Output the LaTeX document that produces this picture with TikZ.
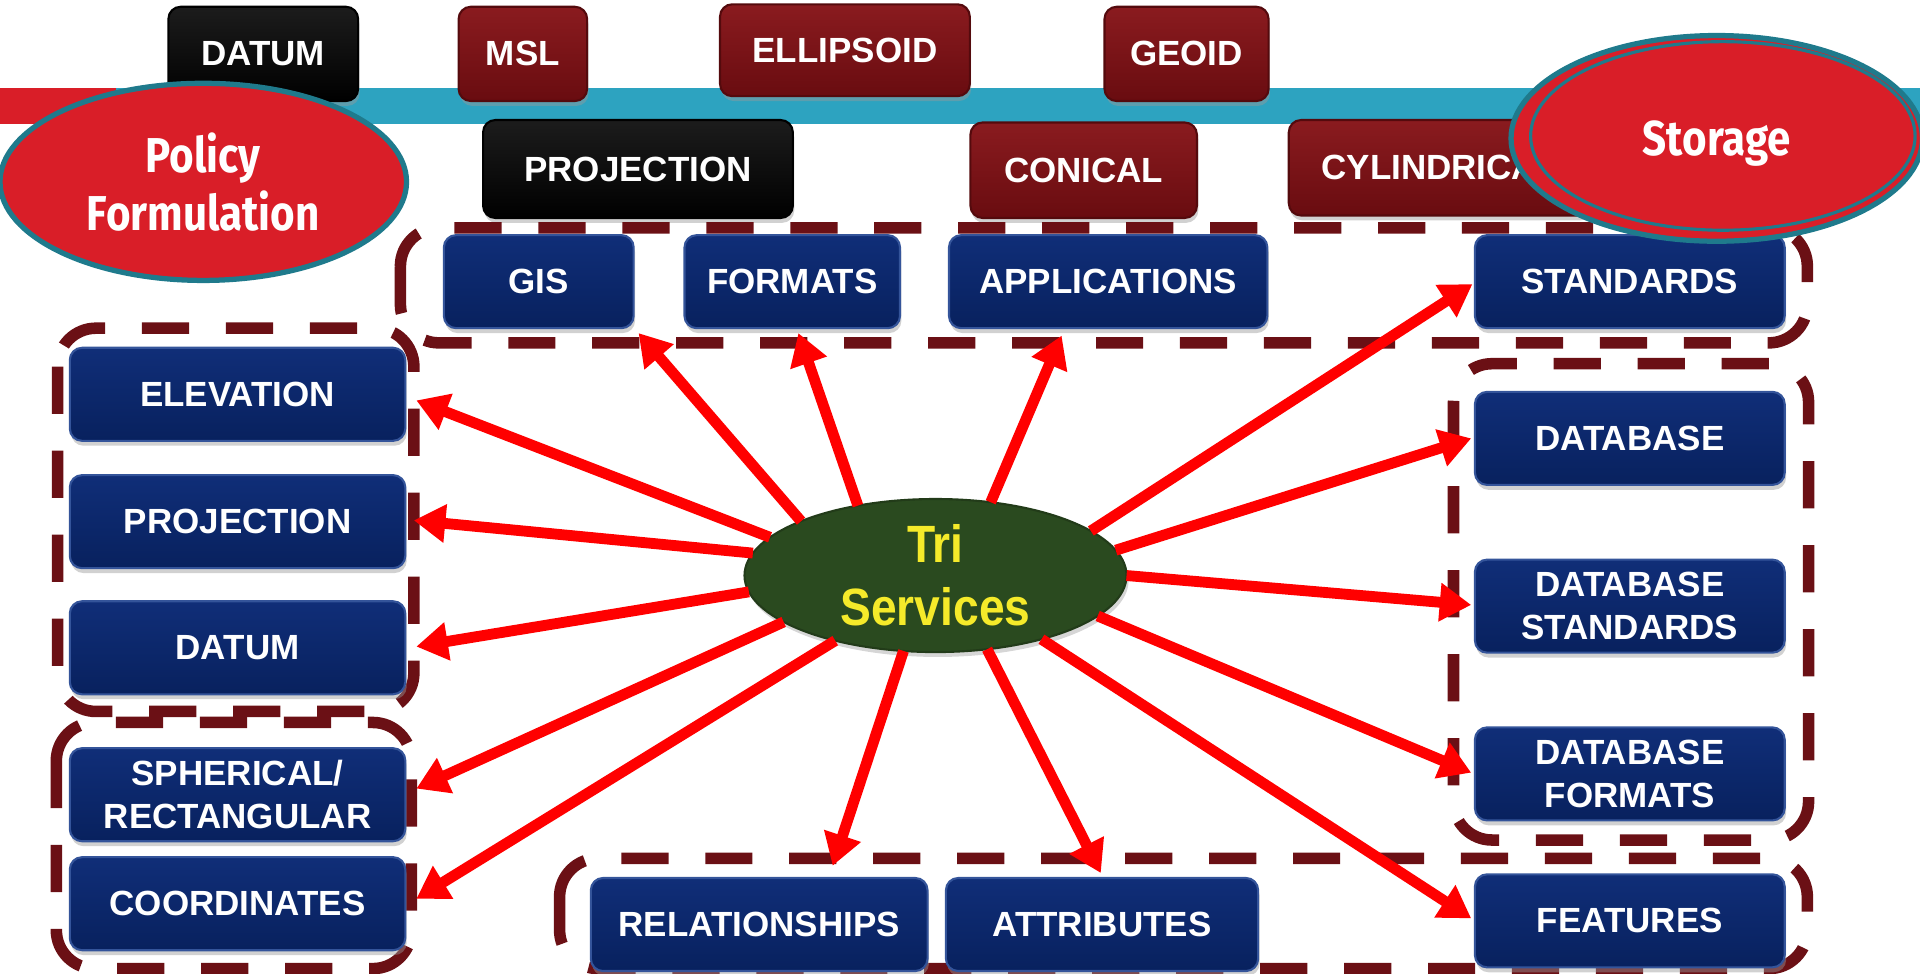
\documentclass[tikz,border=0pt]{standalone}
\usepackage{fontspec}
\setmainfont{Liberation Sans}
\newfontfamily\boxfont{Liberation Sans}
\newfontfamily\trifont{Liberation Sans}[FakeStretch=0.88]
\newfontfamily\twfont{Fira Sans}[FakeStretch=0.86]
\usetikzlibrary{arrows.meta,shapes.geometric,calc,shadows}
\definecolor{navyT}{HTML}{102E78}
\definecolor{navyB}{HTML}{08215E}
\definecolor{navyEdge}{HTML}{34549A}
\definecolor{marT}{HTML}{8A1B1F}
\definecolor{marB}{HTML}{690C10}
\definecolor{blkT}{HTML}{1C1C1C}
\definecolor{blkB}{HTML}{000000}
\definecolor{framecol}{HTML}{6B1015}
\definecolor{tealbar}{HTML}{2DA3C0}
\definecolor{tealedge}{HTML}{1F7A8C}
\definecolor{ellred}{HTML}{D91E28}
\definecolor{trigreen}{HTML}{2A4A1F}
\definecolor{triyellow}{HTML}{F5EA2A}
\definecolor{arrred}{HTML}{FF0000}
\begin{document}
\begin{tikzpicture}[x=0.35pt,y=0.35pt,
 basebox/.style={rectangle, rounded corners=3.5pt, inner sep=0pt, outer sep=0pt, align=center, text=white,
   font=\boxfont\bfseries\fontsize{10}{12.25}\selectfont, minimum height=26.6pt,
   drop shadow={shadow xshift=0.4pt, shadow yshift=-1.4pt, fill=black!40, opacity=0.45}},
 bluebox/.style={basebox, top color=navyT, bottom color=navyB, draw=navyEdge, line width=0.6pt},
 redbox/.style={basebox, top color=marT, bottom color=marB, draw=marB!80!black, line width=0.6pt},
 blackbox/.style={basebox, top color=blkT, bottom color=blkB, draw=black, line width=0.6pt},
 frame/.style={draw=framecol, line width=3.3pt, dash pattern=on 13.5pt off 10.5pt, rounded corners=11pt},
 arr/.style={draw=arrred, line width=3.1pt, -{Triangle[length=9pt,width=10.5pt]}},
 oval/.style={ellipse, fill=ellred, draw=tealedge, line width=1.5pt, inner sep=0pt, outer sep=0pt, text=white,
   align=center, font=\twfont\bfseries\fontsize{14}{16.5}\selectfont}
]
\useasboundingbox (0,0) rectangle (1568,-795);
% bars
\fill[ellred] (0,-72) rectangle (95,-101);
\fill[tealbar] (95,-72) rectangle (1568,-101);
% top boxes
\node[blackbox, minimum width=54.25pt, minimum height=26.95pt] (datumT) at (215,-44) {DATUM};
\node[redbox, minimum width=36.75pt, minimum height=26.95pt] (msl) at (427,-44) {MSL};
\node[redbox, minimum width=71.4pt, minimum height=26.25pt] (ellip) at (690,-41) {ELLIPSOID};
\node[redbox, minimum width=46.9pt, minimum height=26.95pt] (geoid) at (969,-44) {GEOID};
\node[blackbox, minimum width=88.55pt, minimum height=28pt] (projT) at (521,-138) {PROJECTION};
\node[redbox, minimum width=64.75pt, minimum height=27.3pt] (conical) at (885,-139) {CONICAL};
\node[redbox, minimum width=86.45pt, minimum height=27.3pt] (cyl) at (1176,-137) {CYLINDRICAL};
% dashed frames
\draw[frame] (327,-186) rectangle (1476,-280);
\draw[frame] (47,-268) rectangle (338,-581);
\draw[frame] (46,-590) rectangle (336,-791);
\draw[frame] (1187,-297) rectangle (1477,-686);
\draw[frame] (457,-701) rectangle (1476,-791);
% blue boxes
\node[bluebox, minimum width=54.25pt] (gis) at (440,-230) {GIS};
\node[bluebox, minimum width=61.6pt] (formats) at (647,-230) {FORMATS};
\node[bluebox, minimum width=91pt] (apps) at (905,-230) {APPLICATIONS};
\node[bluebox, minimum width=88.55pt] (std) at (1331,-230) {STANDARDS};
\node[bluebox, minimum width=95.9pt] (elev) at (194,-322) {ELEVATION};
\node[bluebox, minimum width=95.9pt] (projL) at (194,-426) {PROJECTION};
\node[bluebox, minimum width=95.9pt] (datumL) at (194,-529) {DATUM};
\node[bluebox, minimum width=95.9pt] (sph) at (194,-649) {SPHERICAL/\\RECTANGULAR};
\node[bluebox, minimum width=95.9pt] (coord) at (194,-738) {COORDINATES};
\node[bluebox, minimum width=88.55pt] (db) at (1331,-358) {DATABASE};
\node[bluebox, minimum width=88.55pt] (dbs) at (1331,-495) {DATABASE\\STANDARDS};
\node[bluebox, minimum width=88.55pt] (dbf) at (1331,-632) {DATABASE\\FORMATS};
\node[bluebox, minimum width=88.55pt] (feat) at (1331,-752) {FEATURES};
\node[bluebox, minimum width=96.25pt] (rel) at (620,-755) {RELATIONSHIPS};
\node[bluebox, minimum width=89.25pt] (attr) at (900,-755) {ATTRIBUTES};
% centre
\node[ellipse, fill=trigreen, draw=trigreen!80!black, line width=0.6pt, inner sep=0pt, outer sep=0pt,
  minimum width=109.2pt, minimum height=43.75pt, text=triyellow, align=center,
  font=\trifont\bfseries\fontsize{15}{18}\selectfont,
  drop shadow={shadow xshift=0.6pt, shadow yshift=-1.4pt, fill=black!40, opacity=0.4}] (tri) at (764,-470) {Tri\\Services};
% arrows
\draw[arr] (tri.158) -- ($(gis.south east)+(4,-4)$);
\draw[arr] (tri.138) -- ($(formats.south)+(5,-4)$);
\draw[arr] (tri.53) -- ($(apps.south)+(-38,-6)$);
\draw[arr] (tri.16) -- ($(std.west)+(-2,-2)$);
\draw[arr] (tri.8) -- ($(db.west)+(-3,0)$);
\draw[arr] (tri.0) -- ($(dbs.west)+(-3,1)$);
\draw[arr] (tri.-14) -- ($(dbf.west)+(-3,1)$);
\draw[arr] (tri.-31) -- ($(feat.west)+(-3,2)$);
\draw[arr] (tri.-55) -- ($(attr.north)+(-1,4)$);
\draw[arr] (tri.-113) -- ($(rel.north)+(60,10)$);
\draw[arr] (tri.-147) -- ($(coord.east)+(9,4)$);
\draw[arr] (tri.-163) -- ($(sph.east)+(9,5)$);
\draw[arr] (tri.-175) -- ($(datumL.east)+(9,1)$);
\draw[arr] (tri.173) -- ($(projL.east)+(7,1)$);
\draw[arr] (tri.167) -- ($(elev.east)+(9,-5)$);
% ovals
\node[oval, minimum width=116.2pt, minimum height=56.35pt] (policy) at (166,-148.5) {Policy\\Formulation};
\node[oval, minimum width=117.6pt, minimum height=58.8pt, text depth=0pt] (storage) at (1402,-113) {Storage};
\draw[tealedge, line width=0.9pt] (1407,-111) ellipse [x radius=157, y radius=77];
\end{tikzpicture}
\end{document}
